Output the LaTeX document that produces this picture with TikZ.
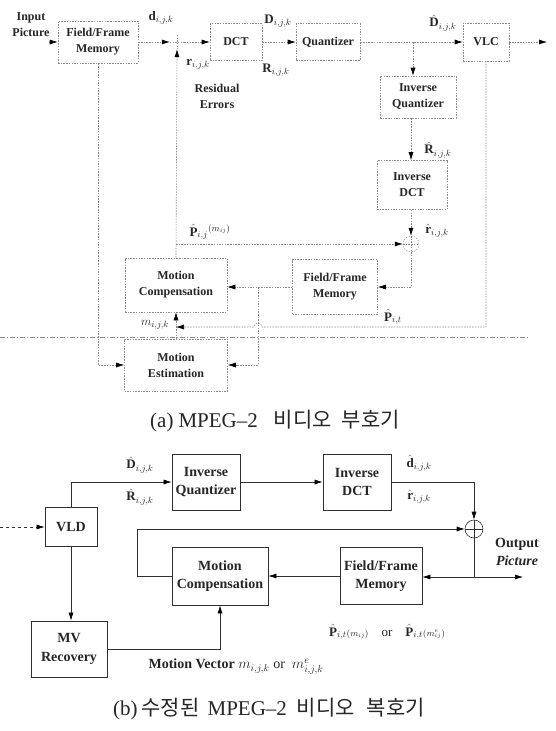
\documentclass[tikz,border=0pt]{standalone}
\usepackage{amsmath}
\usepackage{fontspec}
\setmainfont{Liberation Serif}
\newfontfamily\krfont{Noto Sans CJK KR}
\usetikzlibrary{arrows.meta,positioning,calc}
\definecolor{EncLine}{HTML}{8C8C8C}
\definecolor{EncText}{HTML}{262626}
\definecolor{DecLine}{HTML}{303030}
\newcommand{\encfont}{\fontsize{12}{16}\selectfont\bfseries}
\newcommand{\decfont}{\fontsize{14}{18.5}\selectfont\bfseries}
\newcommand{\lblfont}{\fontsize{13}{15}\selectfont}

\begin{document}
\begin{tikzpicture}[x=1pt, y=-1pt, >=Latex,
  every node/.style={text=EncText},
  ebox/.style={draw=EncLine, line width=0.6pt, dash pattern=on 1.5pt off 1.2pt, font=\encfont, align=center, inner sep=0pt},
  eline/.style={EncLine, line width=0.6pt, dash pattern=on 1.5pt off 1.2pt},
  earrow/.style={eline, -{Latex[length=8pt,width=5pt,color=black]}},
  elabel/.style={font=\encfont, align=center, inner sep=0pt},
  adder/.style={circle, inner sep=0pt, path picture={
      \draw (path picture bounding box.north) -- (path picture bounding box.south)
            (path picture bounding box.west) -- (path picture bounding box.east);}},
  dbox/.style={draw=DecLine, line width=0.8pt, font=\decfont, align=center, inner sep=0pt},
  dline/.style={DecLine, line width=0.6pt},
  darrow/.style={dline, -{Latex[length=8pt,width=5pt,color=black]}},
  dlabel/.style={font=\decfont, align=center, inner sep=0pt},
  mlabel/.style={font=\lblfont, inner sep=0pt},
  capnode/.style={font=\fontsize{21}{24}\selectfont, inner sep=0pt}]
  \path[fill=white] (0,0) rectangle (555,731);
  \useasboundingbox (0,0) rectangle (555,731);

  % (a) encoder
  \node[elabel] (einp) at (31,25) {Input\\Picture};
  \node[ebox, minimum width=80pt, minimum height=42pt] (effm) at (98,42) {Field/Frame\\Memory};
  \node[minimum size=14pt, inner sep=0pt] (esum) at (177,42) {};
  \node[ebox, minimum width=52pt, minimum height=37pt] (edct) at (236,42) {DCT};
  \node[ebox, minimum width=64pt, minimum height=37pt] (equant) at (328,42) {Quantizer};
  \node[ebox, minimum width=46pt, minimum height=38pt] (evlc) at (486,42) {VLC};
  \node[ebox, minimum width=76pt, minimum height=42pt] (eiq) at (418,97) {Inverse\\Quantizer};
  \node[ebox, minimum width=70pt, minimum height=49pt] (eidct) at (412,185) {Inverse\\DCT};
  \node[adder, draw=EncLine, dash pattern=on 1.5pt off 1.2pt, minimum size=16pt] (eadd) at (411,244) {};
  \node[ebox, minimum width=102pt, minimum height=54pt] (emc) at (176,285) {Motion\\Compensation};
  \node[ebox, minimum width=85pt, minimum height=55pt] (effm2) at (335,287) {Field/Frame\\Memory};
  \node[ebox, minimum width=103pt, minimum height=52pt] (eme) at (176,365) {Motion\\Estimation};

  \draw[eline] (esum.north) -- (esum.south) (esum.west) -- (esum.east);
  \coordinate (inpend) at (49,42);
  \coordinate (vlcout) at (547,42);
  \coordinate (qtap) at (413,42);
  \coordinate (ptap) at (176,244);
  \coordinate (mtap) at (258,287);
  \coordinate (mjoin) at (176,327);
  \draw[earrow] (inpend) -- (effm.west);
  \foreach \src/\dst in {effm/esum, esum/edct, edct/equant, equant/evlc, evlc/vlcout}
    \draw[earrow] (\src) -- (\dst);
  \draw[earrow] (qtap) -- (qtap |- eiq.north);
  \draw[earrow] (eiq.south -| eadd) -- (eidct.north -| eadd);
  \draw[earrow] (eidct.south -| eadd) -- (eadd.north);
  \draw[earrow] (emc.north) -- (esum.south);
  \draw[earrow] (ptap) -- (eadd.west);
  \draw[earrow] (eadd.south) |- (effm2.east);
  \draw[earrow] (effm2.west) -- (emc.east |- effm2.west);
  \draw[earrow] (mtap) |- (eme.east);
  \draw[earrow] (effm.south) |- (eme.west);
  \draw[earrow] (eme.north) -- (emc.south);
  \draw[earrow] (evlc.south) |- ($(mtap |- mjoin)+(4,0)$)
    arc[start angle=0, end angle=180, radius=4pt] -- (mjoin);
  \draw[eline, dash pattern=on 5pt off 2pt on 1pt off 2pt] (0,337) -- (530,337);

  \node[mlabel] (edlab) at (161,18) {$\mathbf{d}_{i,j,k}$};
  \node[mlabel] (eDlab) at (278,21) {$\mathbf{D}_{i,j,k}$};
  \node[mlabel] (eRlab) at (276,70) {$\mathbf{R}_{i,j,k}$};
  \node[mlabel] (eDhlab) at (443,23) {$\hat{\mathbf{D}}_{i,j,k}$};
  \node[mlabel] (erlab) at (198,64) {$\mathbf{r}_{i,j,k}$};
  \node[elabel] (eres) at (217,96) {Residual\\Errors};
  \node[mlabel] (eRhlab) at (438,150) {$\hat{\mathbf{R}}_{i,j,k}$};
  \node[mlabel] (erhlab) at (437,231) {$\hat{\mathbf{r}}_{i,j,k}$};
  \node[mlabel] (ePlab) at (210,232) {$\hat{\mathbf{P}}_{i,j}{}^{(m_{ij})}$};
  \node[mlabel] (ePtlab) at (393,317) {$\hat{\mathbf{P}}_{i,t}$};
  \node[mlabel] (emlab) at (155,325) {$m_{i,j,k}$};
  \node[capnode] (capa) at (275,421) {(a)\hspace{5pt}MPEG–2\hspace{16pt}{\krfont 비디오\hspace{10pt}부호기}};

  % (b) decoder
  \node[dbox, minimum width=52pt, minimum height=39pt] (dvld) at (71,527) {VLD};
  \node[dbox, minimum width=68pt, minimum height=56pt] (diq) at (206,482) {Inverse\\Quantizer};
  \node[dbox, minimum width=68pt, minimum height=56pt] (didct) at (357,482) {Inverse\\DCT};
  \node[adder, draw=DecLine, line width=0.6pt, minimum size=18pt] (dadd) at (474,529) {};
  \node[dbox, minimum width=96pt, minimum height=58pt] (dmc) at (220,576) {Motion\\Compensation};
  \node[dbox, minimum width=82pt, minimum height=57pt] (dffm) at (381,576) {Field/Frame\\Memory};
  \node[dbox, minimum width=76pt, minimum height=56pt] (dmv) at (69,649) {MV\\Recovery};
  \node[dlabel] (dout) at (517,552) {Output\\\textit{Picture}};

  \coordinate (din) at (0,527);
  \coordinate (dloop) at (137,529);
  \coordinate (dtap) at (474,577);
  \coordinate (doutend) at (523,577);
  \draw[darrow, dashed] (din) -- (dvld.west);
  \draw[darrow] (dvld.north) |- (diq.west);
  \draw[darrow] (diq) -- (didct);
  \draw[darrow] (didct.east) -| (dadd.north);
  \draw[darrow] (dmc.west) -| (dloop) -- (dadd.west);
  \draw[dline] (dadd.south) -- (dtap);
  \draw[darrow] (dtap) -- (dffm.east |- dtap);
  \draw[darrow] (dtap) -- (doutend);
  \draw[darrow] (dffm.west) -- (dmc.east |- dffm.west);
  \draw[darrow] (dvld.south) -- (dvld.south |- dmv.north);
  \draw[darrow] (dmv.east) -| (dmc.south);

  \node[mlabel] (dDlab) at (140,465) {$\hat{\mathbf{D}}_{i,j,k}$};
  \node[mlabel] (dRlab) at (140,497) {$\hat{\mathbf{R}}_{i,j,k}$};
  \node[mlabel] (ddlab) at (419,463) {$\hat{\mathbf{d}}_{i,j,k}$};
  \node[mlabel] (drlab) at (419,497) {$\hat{\mathbf{r}}_{i,j,k}$};
  \node[mlabel] (dPlab) at (387,632) {$\hat{\mathbf{P}}_{i,t}{\scriptstyle(m_{ij})}$\quad or\quad $\hat{\mathbf{P}}_{i,t}{\scriptstyle(m^{e}_{ij})}$};
  \node[dlabel] (dmvlab) at (236,667) {Motion Vector $m_{i,j,k}$ \mdseries or\ \ $m^{e}_{i,j,k}$};
  \node[capnode] (capb) at (269,709) {(b)\hspace{4pt}{\krfont 수정된}\hspace{8pt}MPEG–2\hspace{10pt}{\krfont 비디오\hspace{12pt}복호기}};
\end{tikzpicture}
\end{document}
